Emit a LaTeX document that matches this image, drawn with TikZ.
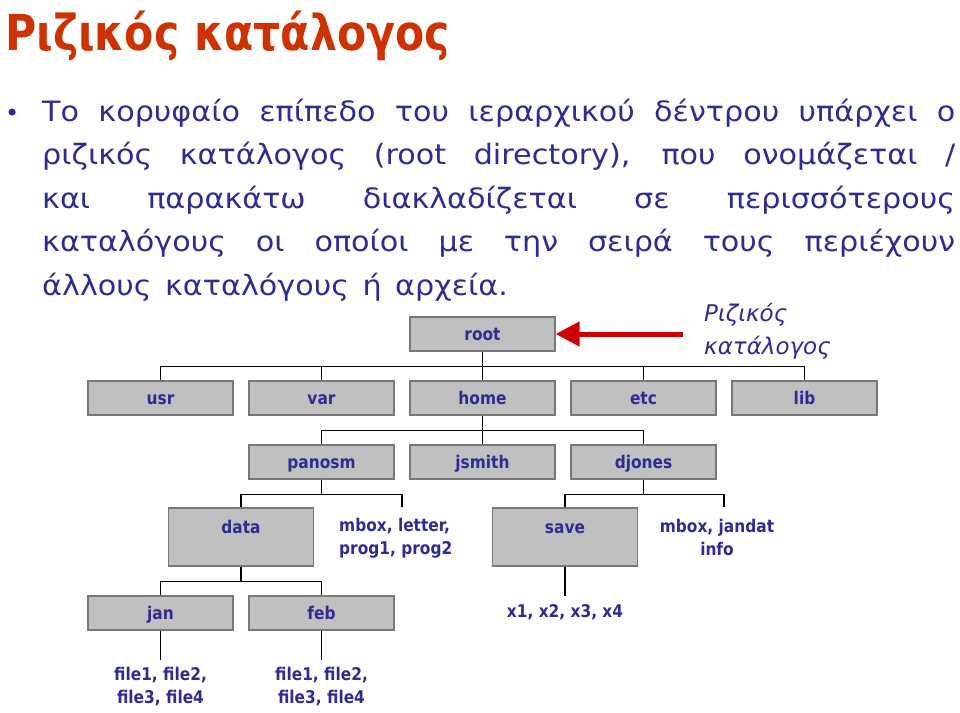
\documentclass[tikz,border=0pt]{standalone}
\usepackage{fontspec}
\setmainfont{DejaVu Sans}
\newfontfamily\bodyfont{DejaVu Sans}[FakeStretch=1.08, WordSpace=1.4]
\newfontfamily\boxfont{DejaVu Sans}[FakeStretch=0.88]
\newfontfamily\titlefont{DejaVu Sans}[FakeStretch=0.86]
\usepackage{tikz}
\usetikzlibrary{arrows.meta,calc}

\definecolor{titlered}{RGB}{204,51,0}
\definecolor{textblue}{RGB}{45,45,145}
\definecolor{boxgray}{RGB}{192,192,192}
\definecolor{edgegray}{RGB}{120,120,120}
\definecolor{arrowred}{RGB}{204,0,0}

\begin{document}
\begin{tikzpicture}[x=1pt,y=-1pt,
    bodyline/.style={anchor=base west, inner sep=0pt, text=textblue, font=\bodyfont\fontsize{28}{34}\selectfont},
    dirbox/.style={draw=edgegray, line width=1.3pt, fill=boxgray, minimum width=145pt, minimum height=34pt, inner sep=0pt, text height=14pt, text depth=1pt, text=textblue, font=\boxfont\fontsize{17.5}{20}\selectfont\bfseries},
    tallbox/.style={dirbox, minimum height=58pt, text height=11pt, text depth=19pt},
    files/.style={text=textblue, font=\boxfont\fontsize{17.5}{23}\selectfont\bfseries, inner sep=2pt},
    link/.style={line width=1.2pt}]
            \useasboundingbox (0,0) rectangle (960,712);
            % title and text
            \node[anchor=base west, inner sep=0pt, text=titlered, font=\titlefont\fontsize{49.5}{56}\selectfont\bfseries] (title) at (5,50) {Ριζικός κατάλογος};
            \node[bodyline, font=\fontsize{24}{30}\selectfont] (bullet) at (5,121) {•};
            \node[bodyline] (line1) at (42,121) {\makebox[913pt][s]{Το κορυφαίο επίπεδο του ιεραρχικού δέντρου υπάρχει ο}};
            \node[bodyline] (line2) at (42,164.5) {\makebox[913pt][s]{ριζικός κατάλογος (root directory), που ονομάζεται /}};
            \node[bodyline] (line3) at (42,208) {\makebox[913pt][s]{και παρακάτω διακλαδίζεται σε περισσότερους}};
            \node[bodyline] (line4) at (42,251.5) {\makebox[913pt][s]{καταλόγους οι οποίοι με την σειρά τους περιέχουν}};
            \node[bodyline] (line5) at (42,295) {άλλους καταλόγους ή αρχεία.};
            % tree
            \node[dirbox] (root) at (482.5,334) {root};
            \node[anchor=west, align=left, inner sep=0pt, text=textblue, font=\fontsize{23}{33}\selectfont\itshape] (rootlabel) at (704,331) {Ριζικός\\κατάλογος};
            \node[dirbox] (usr) at (160.5,398) {usr};
            \node[dirbox] (var) at (321.5,398) {var};
            \node[dirbox] (home) at (482.5,398) {home};
            \node[dirbox] (etc) at (643.5,398) {etc};
            \node[dirbox] (lib) at (804.5,398) {lib};
            \node[dirbox] (panosm) at (321.5,462) {panosm};
            \node[dirbox] (jsmith) at (482.5,462) {jsmith};
            \node[dirbox] (djones) at (643.5,462) {djones};
            \node[tallbox] (data) at (241,537) {data};
            \node[files, align=left, anchor=west] (panfiles) at (337,538.5) {mbox, letter,\\prog1, prog2};
            \node[tallbox] (save) at (565,537) {save};
            \node[files, align=center] (djfiles) at (717,537) {mbox, jandat\\info};
            \node[files] (savefiles) at (565,612) {x1, x2, x3, x4};
            \node[dirbox] (jan) at (160.5,613) {jan};
            \node[dirbox] (feb) at (321.5,613) {feb};
            \node[files, align=center] (janfiles) at (160.5,687) {file1, file2,\\file3, file4};
            \node[files, align=center] (febfiles) at (321.5,687) {file1, file2,\\file3, file4};
            \coordinate (panstub) at (402,507);
            \coordinate (djstub) at (724,507);
            \draw[link] (root.south) -- ++(0,15) -| (usr.north);
            \draw[link] (root.south) -- ++(0,15) -| (var.north);
            \draw[link] (root.south) -- (home.north);
            \draw[link] (root.south) -- ++(0,15) -| (etc.north);
            \draw[link] (root.south) -- ++(0,15) -| (lib.north);
            \draw[link] (home.south) -- ++(0,15) -| (panosm.north);
            \draw[link] (home.south) -- (jsmith.north);
            \draw[link] (home.south) -- ++(0,15) -| (djones.north);
            \draw[link] (panosm.south) -- ++(0,15) -| (data.north);
            \draw[link] (panosm.south) -- ++(0,15) -| (panstub);
            \draw[link] (djones.south) -- ++(0,15) -| (save.north);
            \draw[link] (djones.south) -- ++(0,15) -| (djstub);
            \draw[link] (data.south) -- ++(0,15) -| (jan.north);
            \draw[link] (data.south) -- ++(0,15) -| (feb.north);
            \draw[link, shorten >=6pt] (save.south) -- (savefiles.north);
            \draw[link, shorten >=5pt] (jan.south) -- (janfiles.north);
            \draw[link, shorten >=5pt] (feb.south) -- (febfiles.north);
            \draw[arrowred, line width=5pt, -{Triangle[length=24pt,width=24pt]}] ($(root.east -| rootlabel.west)+(-21,0)$) -- (root.east);
        \end{tikzpicture}
\end{document}
